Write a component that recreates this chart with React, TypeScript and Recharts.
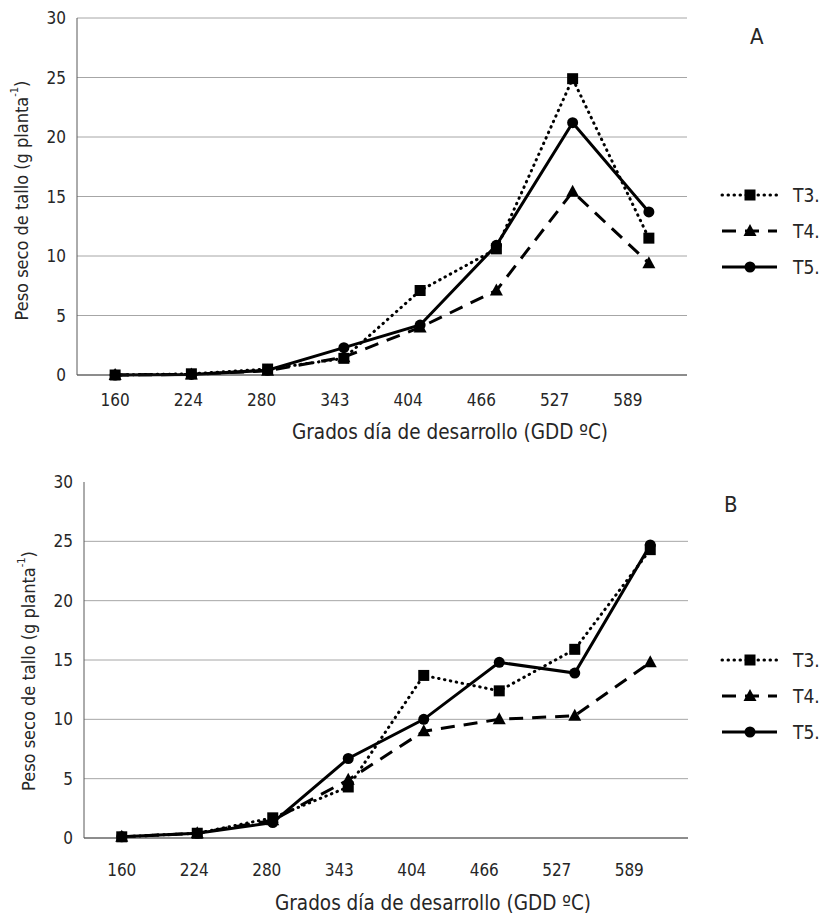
import React from 'react';
import { LineChart, Line, XAxis, YAxis, CartesianGrid, Legend, Label } from 'recharts';

// GDD categories (x axis) and y ticks
const gdd = ['160', '224', '280', '343', '404', '466', '527', '589'];
const yTicks = [0, 5, 10, 15, 20, 25, 30];

// panel A
const t3A = [0, 0.1, 0.5, 1.4, 7.1, 10.6, 24.9, 11.5];
const t4A = [0, 0.05, 0.35, 1.5, 4.0, 7.1, 15.4, 9.4];
const t5A = [0, 0.05, 0.4, 2.3, 4.2, 10.9, 21.2, 13.7];

// panel B
const t3B = [0.1, 0.4, 1.7, 4.3, 13.7, 12.4, 15.9, 24.3];
const t4B = [0.1, 0.4, 1.5, 4.9, 9.0, 10.0, 10.3, 14.8];
const t5B = [0.1, 0.4, 1.3, 6.7, 10.0, 14.8, 13.9, 24.7];

const FONT = '"DejaVu Sans Condensed", "Noto Sans", sans-serif';
const INK = '#262626';

const lineStyle: Record<string, { dash?: string; cap: 'round' | 'butt'; shape: string }> = {
  t3: { dash: '0.5 5.5', cap: 'round', shape: 'square' },
  t4: { dash: '14 9', cap: 'butt', shape: 'triangle' },
  t5: { dash: undefined, cap: 'butt', shape: 'circle' },
};

const Marker = ({ shape, cx, cy }: { shape: string; cx: number; cy: number }) => {
  if (shape === 'square') return <rect x={cx - 5.5} y={cy - 5.5} width={11} height={11} fill="#000" />;
  if (shape === 'triangle')
    return <polygon points={`${cx},${cy - 7} ${cx - 6.5},${cy + 5} ${cx + 6.5},${cy + 5}`} fill="#000" />;
  return <circle cx={cx} cy={cy} r={5.5} fill="#000" />;
};

const dotFor = (key: string) => (p: any) =>
  <Marker key={`${key}-${p.index}`} shape={lineStyle[key].shape} cx={p.cx} cy={p.cy} />;

const GddTick = (props: any) => {
  const { x, y, payload, index, dy } = props;
  return (
    <text x={x - index * 3} y={y} dy={dy} textAnchor="middle" fill={INK} fontSize={17} fontFamily={FONT}>
      {payload.value}
    </text>
  );
};

const renderLegend = ({ payload }: any) => (
  <div style={{ fontFamily: FONT, color: INK }}>
    {(payload || []).map((entry: any) => {
      const st = lineStyle[entry.dataKey];
      return (
        <div key={entry.dataKey} style={{ display: 'flex', alignItems: 'center', height: 36 }}>
          <svg width={60} height={20}>
            <line x1={2} x2={57} y1={10} y2={10} stroke="#000" strokeWidth={3}
              strokeDasharray={st.dash} strokeLinecap={st.cap} />
            <Marker shape={st.shape} cx={30} cy={10} />
          </svg>
          <span style={{ marginLeft: 13, fontSize: 19 }}>{entry.value}</span>
        </div>
      );
    })}
  </div>
);

type PanelProps = {
  t3: number[]; t4: number[]; t5: number[];
  height: number;
  margin: { top: number; right: number; bottom: number; left: number };
  tickDy: number; titleDx: number; titleDy: number; yLabelShift: number;
  legendTop: number; gridValues: number[];
};

const Panel = (p: PanelProps) => {
  const data = gdd.map((g, i) => ({ gdd: g, pos: i + 0.5, t3: p.t3[i], t4: p.t4[i], t5: p.t5[i] }));
  const bounds = gdd.map((_, i) => i).concat(gdd.length);
  return (
    <LineChart width={823} height={p.height} data={data} margin={p.margin}>
      <CartesianGrid xAxisId="grid" vertical={false} stroke="#a6a6a6" horizontalValues={p.gridValues} />
      <XAxis xAxisId="grid" type="number" dataKey="pos" domain={[0, gdd.length]} ticks={bounds}
        interval={0} tick={false} tickSize={7} height={8}
        axisLine={{ stroke: '#1a1a1a' }} tickLine={{ stroke: '#1a1a1a' }} />
      <XAxis xAxisId="lab" dataKey="gdd" type="category" scale="band" interval={0} axisLine={false}
        tickLine={false} height={60} tick={<GddTick dy={p.tickDy} />}>
        <Label content={({ viewBox }: any) => (
          <text x={viewBox.x + viewBox.width / 2 + p.titleDx} y={viewBox.y + p.titleDy} textAnchor="middle"
            fill={INK} fontSize={20.5} fontFamily={FONT}>Grados día de desarrollo (GDD ºC)</text>
        )} />
      </XAxis>
      <YAxis domain={[0, 30]} ticks={yTicks} interval={0} width={60} tickLine={false} tickMargin={5}
        axisLine={{ stroke: '#595959' }}
        tick={{ fill: INK, fontSize: 17, fontFamily: FONT }}>
        <Label content={({ viewBox }: any) => {
          const cx = viewBox.x + 4;
          const cy = viewBox.y + viewBox.height / 2 + p.yLabelShift;
          return (
            <text x={cx} y={cy} transform={`rotate(-90 ${cx} ${cy})`} textAnchor="middle"
              dominantBaseline="central" fill={INK} fontSize={18} fontFamily={FONT}>
              Peso seco de tallo (g planta<tspan dy={-7} fontSize={11}>-1</tspan><tspan dy={7}>)</tspan>
            </text>
          );
        }} />
      </YAxis>
      <Legend layout="vertical" align="center" verticalAlign="middle" content={renderLegend}
        wrapperStyle={{ left: 720, top: p.legendTop, width: 103 }} />
      {(['t3', 't4', 't5'] as const).map((k) => (
        <Line key={k} xAxisId="grid" dataKey={k} name={`${k.toUpperCase()}.`} stroke="#000" strokeWidth={3}
          strokeDasharray={lineStyle[k].dash} strokeLinecap={lineStyle[k].cap}
          dot={dotFor(k)} activeDot={false} isAnimationActive={false} />
      ))}
    </LineChart>
  );
};

export default function App() {
  return (
    <div style={{ position: 'absolute', left: 0, top: 0, width: 823, height: 915, background: '#fff' }}>
      <div style={{ position: 'absolute', left: 0, top: 0 }}>
        <Panel t3={t3A} t4={t4A} t5={t5A} height={450}
          margin={{ top: 18, right: 136, bottom: 7, left: 17 }}
          tickDy={15} titleDx={68} titleDy={56} yLabelShift={4}
          legendTop={177} gridValues={[5, 10, 15, 20, 25, 30]} />
      </div>
      <div style={{ position: 'absolute', left: 0, top: 450 }}>
        <Panel t3={t3B} t4={t4B} t5={t5B} height={465}
          margin={{ top: 32, right: 135, bottom: 9, left: 24 }}
          tickDy={22} titleDx={47} titleDy={64} yLabelShift={11}
          legendTop={192} gridValues={[5, 10, 15, 20, 25]} />
      </div>
      <div style={{ position: 'absolute', left: 750, top: 24, fontFamily: FONT, fontSize: 22, color: INK }}>A</div>
      <div style={{ position: 'absolute', left: 724, top: 492, fontFamily: FONT, fontSize: 22, color: INK }}>B</div>
    </div>
  );
}
